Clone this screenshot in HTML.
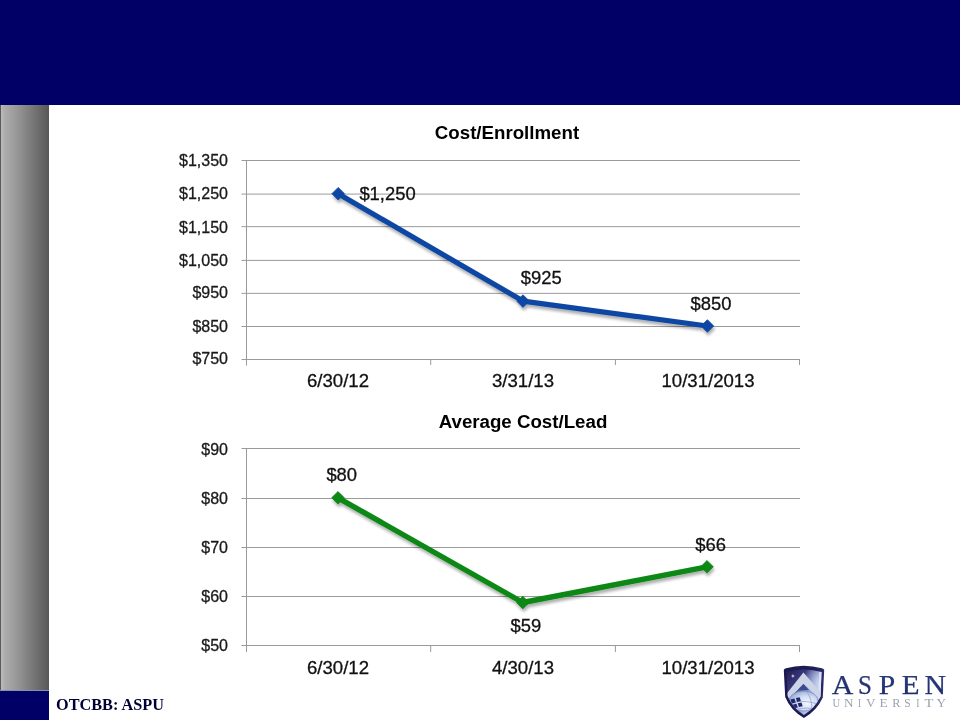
<!DOCTYPE html>
<html><head><meta charset="utf-8">
<style>
html,body{margin:0;padding:0;background:#fff;}
body{width:960px;height:720px;position:relative;overflow:hidden;font-family:"Liberation Sans",sans-serif;}
#hdr{position:absolute;left:0;top:0;width:960px;height:105px;background:#000066;}
#bar{position:absolute;left:0;top:105px;width:49px;height:585px;background:linear-gradient(to right,#5a5a5a 0px,#5a5a5a 1px,#bbbbbb 1px,#acacac 5px,#9d9d9d 14px,#7d7d7d 30px,#595959 48px,#555 49px);}
#foot{position:absolute;left:0;top:690px;width:49px;height:30px;background:#000066;border-top:1px solid #8e8eae;box-sizing:border-box;}
#otc{will-change:transform;position:absolute;left:55.5px;top:695.7px;font:bold 16.25px "Liberation Serif",serif;color:#000033;white-space:nowrap;}
svg{position:absolute;left:0;top:0;will-change:transform;}
</style></head><body>
<div id="hdr"></div>
<div id="bar"></div>
<div id="foot"></div>
<div id="otc">OTCBB: ASPU</div>
<svg width="960" height="720" viewBox="0 0 960 720" font-family="Liberation Sans, sans-serif">
<defs>
<filter id="sh" x="-10%" y="-10%" width="120%" height="130%"><feGaussianBlur in="SourceAlpha" stdDeviation="1.8"/><feOffset dx="1" dy="3" result="b"/><feComponentTransfer><feFuncA type="linear" slope="0.32"/></feComponentTransfer><feMerge><feMergeNode/><feMergeNode in="SourceGraphic"/></feMerge></filter>
</defs>
<!-- chart 1 -->
<text x="507" y="138.5" font-size="18.7" font-weight="bold" text-anchor="middle" fill="#000">Cost/Enrollment</text>
<g stroke="#9a9a9a" stroke-width="1" fill="none">
<path d="M241.5 160.5H800M241.5 194.1H800M241.5 226.65H800M241.5 260.4H800M241.5 293.35H800M241.5 326.5H800M241.5 359.5H800"/>
<path d="M246.5 160V365.5M430.7 359V365M615.4 359V365M799.5 359V365"/>
</g>
<g class="yl" font-size="16" fill="#1a1a1a" stroke="#1a1a1a" stroke-width="0.3" text-anchor="end">
<text x="228" y="166.30">$1,350</text>
<text x="228" y="199.35">$1,250</text>
<text x="228" y="232.70">$1,150</text>
<text x="228" y="265.50">$1,050</text>
<text x="228" y="298.35">$950</text>
<text x="228" y="331.55">$850</text>
<text x="228" y="364.35">$750</text>
</g>
<g font-size="18.6" fill="#111" stroke="#111" stroke-width="0.3" text-anchor="middle">
<text x="338" y="387">6/30/12</text>
<text x="523" y="387">3/31/13</text>
<text x="708" y="387">10/31/2013</text>
</g>
<g filter="url(#sh)">
<polyline points="338.2,193.7 523,301.1 707.4,326" fill="none" stroke="#0b47a3" stroke-width="5.2" stroke-linejoin="round"/>
<g fill="#0b47a3" stroke="#0b47a3" stroke-width="0.8" stroke-linejoin="round">
<path d="M338.2 187.4L344.5 193.7L338.2 200L331.9 193.7Z"/>
<path d="M523 294.8L529.3 301.1L523 307.4L516.7 301.1Z"/>
<path d="M707.4 319.7L713.7 326L707.4 332.3L701.1 326Z"/>
</g>
</g>
<g font-size="18.4" fill="#111" stroke="#111" stroke-width="0.3">
<text x="359.4" y="200">$1,250</text>
<text x="520.8" y="284">$925</text>
<text x="690.5" y="309.8">$850</text>
</g>
<!-- chart 2 -->
<text x="523" y="427.5" font-size="18.7" font-weight="bold" text-anchor="middle" fill="#000">Average Cost/Lead</text>
<g stroke="#9a9a9a" stroke-width="1" fill="none">
<path d="M241.5 448.5H800M241.5 498.5H800M241.5 547.5H800M241.5 596.5H800M241.5 645.5H800"/>
<path d="M246.5 448V652M430.7 645V652M615.4 645V652M799.5 645V652"/>
</g>
<g class="yl" font-size="16" fill="#1a1a1a" stroke="#1a1a1a" stroke-width="0.3" text-anchor="end">
<text x="228" y="454.50">$90</text>
<text x="228" y="504.20">$80</text>
<text x="228" y="553.40">$70</text>
<text x="228" y="602.20">$60</text>
<text x="228" y="651.40">$50</text>
</g>
<g font-size="18.6" fill="#111" stroke="#111" stroke-width="0.3" text-anchor="middle">
<text x="338" y="673.5">6/30/12</text>
<text x="523" y="673.5">4/30/13</text>
<text x="708" y="673.5">10/31/2013</text>
</g>
<g filter="url(#sh)">
<polyline points="338,497.8 522.8,602.5 707,566.8" fill="none" stroke="#088812" stroke-width="5.4" stroke-linejoin="round"/>
<g fill="#088812" stroke="#088812" stroke-width="0.8" stroke-linejoin="round">
<path d="M338 491.5L344.3 497.8L338 504.1L331.7 497.8Z"/>
<path d="M522.8 596.2L529.1 602.5L522.8 608.8L516.5 602.5Z"/>
<path d="M707 560.5L713.3 566.8L707 573.1L700.7 566.8Z"/>
</g>
</g>
<g font-size="18.4" fill="#111" stroke="#111" stroke-width="0.3">
<text x="326.4" y="481.3">$80</text>
<text x="510.5" y="632">$59</text>
<text x="695.3" y="550.8">$66</text>
</g>

<!-- logo -->
<defs>
<linearGradient id="shf" x1="0.1" y1="0.05" x2="0.9" y2="0.95">
<stop offset="0" stop-color="#241c50"/><stop offset="0.3" stop-color="#3a3a80"/><stop offset="0.55" stop-color="#8090c8"/><stop offset="0.8" stop-color="#c4d2ee"/><stop offset="1" stop-color="#e4ecf8"/>
</linearGradient>
<radialGradient id="shg" cx="0.9" cy="0.35" r="0.45"><stop offset="0" stop-color="#dfe8fa" stop-opacity="0.9"/><stop offset="1" stop-color="#dfe8fa" stop-opacity="0"/></radialGradient>
<radialGradient id="glb" cx="0.62" cy="0.6" r="0.7"><stop offset="0" stop-color="#f6f9ff"/><stop offset="0.5" stop-color="#cfdcf2"/><stop offset="1" stop-color="#8ea4d2"/></radialGradient>
<linearGradient id="asp" x1="0" y1="0" x2="0" y2="1"><stop offset="0" stop-color="#2e4088"/><stop offset="1" stop-color="#1c2866"/></linearGradient>
<linearGradient id="bdr" x1="0" y1="0" x2="1" y2="0"><stop offset="0" stop-color="#1a1850"/><stop offset="0.75" stop-color="#201e58"/><stop offset="1" stop-color="#2c2c6c"/></linearGradient>
<clipPath id="shc"><path d="M786.6 672Q803.5 666.8 821.6 672L820.4 696.5Q814.5 708.5 803.9 715Q792.8 708 787.6 696Z"/></clipPath>
</defs>
<path d="M783.8 670Q784 668.6 786 668.2Q803.5 663.2 822 668.2Q824 668.6 824.2 670L822.8 697.5Q816.8 710.8 803.9 718Q790.6 710.4 785.2 697Z" fill="url(#bdr)"/>
<g clip-path="url(#shc)">
<rect x="784" y="664" width="42" height="56" fill="url(#shf)"/>
<rect x="784" y="664" width="42" height="56" fill="url(#shg)"/>
<path d="M819.2 672L821.8 672L820.8 696L818.5 700Z" fill="#dfe6f8" opacity="0.85"/>
<path d="M786 694.5L803.4 672.6L821 692.5L821 699.5L803.4 683.9L786 702Z" fill="#cdd4e6"/>
<path d="M798 690L803.4 683.9L809 690Z" fill="#3c4890"/>
<ellipse cx="803.5" cy="701" rx="14.5" ry="10" fill="url(#glb)" stroke="#6d7fb8" stroke-width="0.6"/>
<path d="M790 703Q804 699.5 818 704M796 709.5Q808 706.5 817 710M806 690.5Q813 699 811.5 712" stroke="#8a9ccc" stroke-width="0.7" fill="none"/>
<path d="M790.4 699.6L794.4 698.6L795.8 702.4L791.8 703.4Z M795.9 698.1L799.7 697.2L800.9 701L797.1 701.9Z M792.4 704.8L796.4 703.8L797.8 707.6L793.8 708.6Z M797.7 703.3L801.5 702.4L802.7 706.2L798.9 707.1Z" fill="#23276a"/>
</g>
<path d="M792.9 673.9L793.5 675.4L795 676L793.5 676.6L792.9 678.1L792.3 676.6L790.8 676L792.3 675.4Z" fill="#d8dcf8"/>
<g font-family="Liberation Serif, serif" font-size="27" fill="url(#asp)" stroke="#22306f" stroke-width="0.25">
<text x="831.8" y="693.6" textLength="21.6" lengthAdjust="spacingAndGlyphs">A</text>
<text x="857.9" y="693.6" textLength="13.9" lengthAdjust="spacingAndGlyphs">S</text>
<text x="878.8" y="693.6" textLength="16.5" lengthAdjust="spacingAndGlyphs">P</text>
<text x="901.7" y="693.6" textLength="17.8" lengthAdjust="spacingAndGlyphs">E</text>
<text x="924.6" y="693.6" textLength="21.6" lengthAdjust="spacingAndGlyphs">N</text>
</g>
<g font-family="Liberation Serif, serif" font-size="11.5" fill="#9aa3b0">
<text x="832.4" y="706.7" textLength="7.7" lengthAdjust="spacingAndGlyphs">U</text>
<text x="843.9" y="706.7" textLength="9.5" lengthAdjust="spacingAndGlyphs">N</text>
<text x="857.9" y="706.7" textLength="3.1" lengthAdjust="spacingAndGlyphs">I</text>
<text x="866.1" y="706.7" textLength="9.5" lengthAdjust="spacingAndGlyphs">V</text>
<text x="879.5" y="706.7" textLength="8.2" lengthAdjust="spacingAndGlyphs">E</text>
<text x="892.2" y="706.7" textLength="8.2" lengthAdjust="spacingAndGlyphs">R</text>
<text x="904.2" y="706.7" textLength="6.4" lengthAdjust="spacingAndGlyphs">S</text>
<text x="916.3" y="706.7" textLength="3.2" lengthAdjust="spacingAndGlyphs">I</text>
<text x="924.6" y="706.7" textLength="8.9" lengthAdjust="spacingAndGlyphs">T</text>
<text x="936.6" y="706.7" textLength="9.6" lengthAdjust="spacingAndGlyphs">Y</text>
</g>
</svg>
</body></html>
